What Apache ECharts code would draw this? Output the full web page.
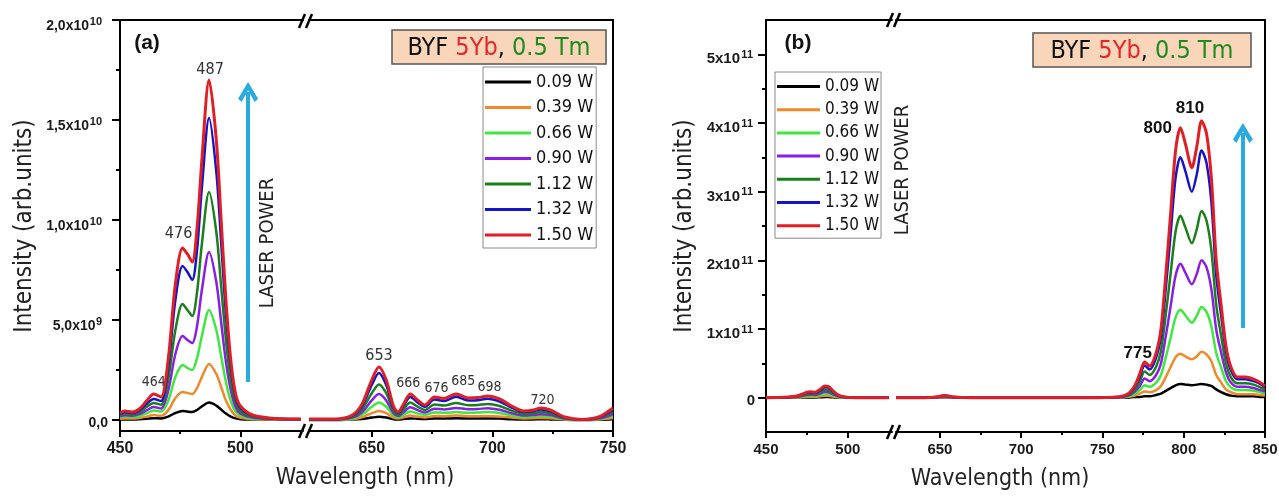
<!DOCTYPE html>
<html><head><meta charset="utf-8">
<script src="https://cdn.jsdelivr.net/npm/echarts@6/dist/echarts.min.js"></script>
<style>html,body{margin:0;padding:0;background:#fff}#c{width:1279px;height:496px}</style>
</head><body><div id="c"></div>
<script>
// ---------- DATA ----------
const powers = ['0.09 W', '0.39 W', '0.66 W', '0.90 W', '1.12 W', '1.32 W', '1.50 W'];

// Panel (a): intensity in units of 1e9
const SCALE_A = 1e9;
const wlA1 = [450, 452, 455, 458, 461, 464, 467, 470, 473, 476, 478, 480, 482, 484, 487, 490, 492, 494, 496, 498, 500, 505, 512, 520, 525];
const a1_009 = [0.02, 0.03, 0.03, 0.04, 0.06, 0.09, 0.08, 0.17, 0.35, 0.45, 0.42, 0.40, 0.50, 0.68, 0.87, 0.72, 0.52, 0.32, 0.17, 0.08, 0.04, 0.02, 0.01, 0.01, 0.01];
const a1_039 = [0.06, 0.08, 0.07, 0.10, 0.17, 0.25, 0.21, 0.48, 1.10, 1.40, 1.35, 1.30, 1.60, 2.15, 2.80, 2.30, 1.65, 0.97, 0.50, 0.22, 0.11, 0.04, 0.02, 0.01, 0.01];
const a1_066 = [0.12, 0.16, 0.14, 0.19, 0.33, 0.48, 0.42, 0.95, 2.15, 2.75, 2.60, 2.50, 3.10, 4.20, 5.50, 4.50, 3.20, 1.90, 0.95, 0.42, 0.22, 0.08, 0.04, 0.02, 0.02];
const a1_090 = [0.18, 0.24, 0.21, 0.29, 0.48, 0.65, 0.58, 1.45, 3.30, 4.20, 4.00, 3.85, 4.70, 6.50, 8.40, 6.90, 4.90, 2.90, 1.50, 0.65, 0.33, 0.12, 0.05, 0.03, 0.03];
const a1_112 = [0.24, 0.32, 0.28, 0.38, 0.65, 0.85, 0.76, 2.00, 4.50, 5.80, 5.50, 5.20, 6.40, 8.80, 11.4, 9.40, 6.70, 4.00, 2.00, 0.90, 0.45, 0.17, 0.07, 0.04, 0.04];
const a1_132 = [0.30, 0.40, 0.35, 0.48, 0.80, 1.05, 0.95, 2.60, 6.00, 7.70, 7.40, 7.00, 8.50, 11.6, 15.1, 12.4, 8.90, 5.30, 2.70, 1.15, 0.60, 0.22, 0.09, 0.05, 0.05];
const a1_150 = [0.35, 0.45, 0.40, 0.55, 0.95, 1.30, 1.15, 3.00, 6.80, 8.60, 8.30, 7.90, 9.60, 13.0, 17.0, 14.0, 10.0, 6.00, 3.00, 1.30, 0.70, 0.25, 0.10, 0.05, 0.05];

const wlA2 = [624, 635, 642, 646, 650, 653, 656, 659, 661, 663, 666, 669, 672, 676, 680, 685, 690, 694, 698, 703, 708, 713, 717, 720, 724, 730, 737, 744, 750];
const a2_009 = [0.00, 0.00, 0.02, 0.05, 0.12, 0.16, 0.12, 0.04, 0.03, 0.05, 0.08, 0.06, 0.05, 0.07, 0.07, 0.09, 0.07, 0.07, 0.08, 0.07, 0.04, 0.03, 0.03, 0.04, 0.03, 0.01, 0.00, 0.01, 0.04];
const a2_039 = [0.01, 0.01, 0.04, 0.14, 0.34, 0.45, 0.34, 0.12, 0.07, 0.13, 0.22, 0.17, 0.13, 0.20, 0.19, 0.23, 0.19, 0.19, 0.20, 0.18, 0.12, 0.08, 0.09, 0.10, 0.09, 0.03, 0.01, 0.03, 0.10];
const a2_066 = [0.02, 0.02, 0.08, 0.26, 0.66, 0.88, 0.66, 0.23, 0.13, 0.25, 0.43, 0.33, 0.25, 0.38, 0.36, 0.40, 0.36, 0.37, 0.40, 0.35, 0.23, 0.15, 0.17, 0.20, 0.17, 0.05, 0.01, 0.05, 0.20];
const a2_090 = [0.02, 0.02, 0.12, 0.39, 0.98, 1.30, 0.98, 0.34, 0.20, 0.37, 0.64, 0.49, 0.37, 0.56, 0.53, 0.60, 0.54, 0.55, 0.59, 0.51, 0.34, 0.22, 0.25, 0.29, 0.25, 0.07, 0.01, 0.07, 0.29];
const a2_112 = [0.03, 0.03, 0.17, 0.54, 1.34, 1.78, 1.34, 0.47, 0.27, 0.50, 0.87, 0.67, 0.50, 0.77, 0.72, 0.85, 0.74, 0.75, 0.80, 0.70, 0.47, 0.30, 0.34, 0.40, 0.34, 0.10, 0.02, 0.10, 0.40];
const a2_132 = [0.04, 0.04, 0.22, 0.70, 1.75, 2.35, 1.75, 0.62, 0.35, 0.66, 1.15, 0.88, 0.66, 1.02, 0.95, 1.16, 0.97, 0.99, 1.06, 0.92, 0.62, 0.40, 0.44, 0.53, 0.44, 0.13, 0.03, 0.13, 0.52];
const a2_150 = [0.05, 0.05, 0.25, 0.80, 2.00, 2.65, 2.00, 0.70, 0.40, 0.75, 1.30, 1.00, 0.75, 1.15, 1.08, 1.30, 1.10, 1.12, 1.20, 1.05, 0.70, 0.45, 0.50, 0.60, 0.50, 0.15, 0.03, 0.15, 0.60];

// Panel (b): intensity in units of 1e11
const SCALE_B = 1e11;
const wlB1 = [450, 462, 468, 472, 475, 477, 480, 483, 486, 488, 491, 494, 498, 505, 515, 525];
const b1_009 = [0, 0, 0.001, 0.002, 0.004, 0.004, 0.004, 0.006, 0.009, 0.008, 0.005, 0.002, 0, 0, 0, 0];
const b1_039 = [0, 0.001, 0.003, 0.008, 0.013, 0.014, 0.013, 0.020, 0.028, 0.027, 0.017, 0.007, 0.002, 0, 0, 0];
const b1_066 = [0, 0.002, 0.007, 0.017, 0.027, 0.028, 0.027, 0.040, 0.057, 0.055, 0.033, 0.013, 0.003, 0, 0, 0];
const b1_090 = [0, 0.002, 0.010, 0.025, 0.040, 0.042, 0.040, 0.060, 0.085, 0.082, 0.050, 0.020, 0.005, 0, 0, 0];
const b1_112 = [0, 0.003, 0.013, 0.033, 0.053, 0.057, 0.053, 0.080, 0.115, 0.110, 0.067, 0.027, 0.007, 0, 0, 0];
const b1_132 = [0, 0.004, 0.018, 0.045, 0.070, 0.075, 0.070, 0.105, 0.150, 0.145, 0.090, 0.035, 0.010, 0, 0, 0];
const b1_150 = [0, 0.005, 0.020, 0.050, 0.080, 0.085, 0.080, 0.120, 0.170, 0.165, 0.100, 0.040, 0.010, 0, 0, 0];

const wlB2 = [623, 640, 648, 653, 658, 670, 700, 740, 760, 766, 770, 773, 776, 779, 783, 786, 789, 792, 795, 798, 801, 805, 808, 811, 814, 817, 820, 823, 826, 829, 833, 838, 843, 847, 850];
const b2_009 = [0, 0, 0, 0, 0, 0, 0, 0, 0, 0, 0.01, 0.01, 0.02, 0.02, 0.04, 0.06, 0.10, 0.14, 0.18, 0.20, 0.19, 0.18, 0.19, 0.20, 0.19, 0.17, 0.12, 0.08, 0.05, 0.03, 0.02, 0.02, 0.02, 0.01, 0.01];
const b2_039 = [0, 0, 0, 0, 0, 0, 0, 0, 0, 0.01, 0.03, 0.06, 0.09, 0.08, 0.11, 0.17, 0.30, 0.45, 0.59, 0.64, 0.60, 0.56, 0.60, 0.67, 0.63, 0.53, 0.33, 0.22, 0.12, 0.08, 0.05, 0.05, 0.05, 0.04, 0.03];
const b2_066 = [0, 0, 0, 0.01, 0, 0, 0, 0, 0, 0.02, 0.06, 0.11, 0.18, 0.16, 0.22, 0.33, 0.59, 0.88, 1.17, 1.28, 1.20, 1.09, 1.19, 1.32, 1.25, 1.04, 0.65, 0.44, 0.24, 0.15, 0.11, 0.11, 0.10, 0.08, 0.06];
const b2_090 = [0, 0, 0, 0.01, 0, 0, 0, 0, 0, 0.03, 0.09, 0.17, 0.28, 0.24, 0.33, 0.50, 0.90, 1.34, 1.78, 1.95, 1.82, 1.65, 1.80, 2.00, 1.90, 1.58, 0.99, 0.66, 0.37, 0.22, 0.16, 0.16, 0.14, 0.11, 0.09];
const b2_112 = [0, 0, 0.01, 0.02, 0.01, 0, 0, 0, 0.01, 0.04, 0.12, 0.24, 0.38, 0.33, 0.45, 0.68, 1.22, 1.82, 2.42, 2.65, 2.48, 2.25, 2.45, 2.72, 2.58, 2.15, 1.35, 0.90, 0.50, 0.30, 0.21, 0.21, 0.19, 0.15, 0.12];
const b2_132 = [0, 0, 0.01, 0.03, 0.01, 0, 0, 0, 0.01, 0.05, 0.16, 0.31, 0.47, 0.41, 0.58, 0.89, 1.60, 2.40, 3.20, 3.50, 3.30, 3.00, 3.25, 3.60, 3.42, 2.85, 1.78, 1.20, 0.67, 0.40, 0.27, 0.27, 0.24, 0.20, 0.15];
const b2_150 = [0, 0, 0.01, 0.03, 0.01, 0, 0, 0, 0.01, 0.06, 0.18, 0.35, 0.52, 0.46, 0.65, 1.00, 1.80, 2.70, 3.60, 3.93, 3.70, 3.35, 3.65, 4.03, 3.85, 3.20, 2.00, 1.35, 0.75, 0.45, 0.30, 0.30, 0.27, 0.22, 0.17];

// Tick values / labels
const xTicksA1 = [450, 500], xMinorA1 = [475];
const xTicksA2 = [650, 700, 750], xMinorA2 = [675, 725];
const xTicksB1 = [450, 500], xMinorB1 = [475];
const xTicksB2 = [650, 700, 750, 800, 850], xMinorB2 = [675, 725, 775, 825];
const yTicksA = [0, 5e9, 1e10, 1.5e10, 2e10];
const yMantA = ['0,0', '5,0', '1,0', '1,5', '2,0'];
const yExpA = ['', '9', '10', '10', '10'];
const yMinorA = [2.5e9, 7.5e9, 1.25e10, 1.75e10];
const yTicksB = [0, 1e11, 2e11, 3e11, 4e11, 5e11];
const yMantB = ['0', '1', '2', '3', '4', '5'];
const yExpB = ['', '11', '11', '11', '11', '11'];
const yMinorB = [0.5e11, 1.5e11, 2.5e11, 3.5e11, 4.5e11];

// Peak annotations: [label, wavelength, red-curve value at peak]
const peaksA1 = [['487', 487, 17.0], ['476', 476, 8.6], ['464', 464, 1.3]];
const peaksA2 = [['653', 653, 2.65], ['666', 666, 1.3], ['676', 676, 1.15], ['685', 685, 1.3], ['698', 698, 1.2], ['720', 720, 0.6]];
const peaksB2 = [['810', 810, 4.03], ['800', 798, 3.93], ['775', 776, 0.52]];

// ---------- STYLE ----------
const colors = ['#000000', '#ee8a2a', '#3ee83e', '#8a1ee6', '#1b7f1b', '#1414cc', '#e01e24'];
const FC = '"DejaVu Sans Condensed", "Noto Sans", "DejaVu Sans", sans-serif';
const FB = '"Liberation Sans", Arial, sans-serif';
const AX = '#000';
const LBL = '#1a1a1a';
const ARROW = 'path://M10,0 L20,15 L16.5,18 L10,7.5 L3.5,18 L0,15 Z';

const segA1 = [a1_009, a1_039, a1_066, a1_090, a1_112, a1_132, a1_150];
const segA2 = [a2_009, a2_039, a2_066, a2_090, a2_112, a2_132, a2_150];
const segB1 = [b1_009, b1_039, b1_066, b1_090, b1_112, b1_132, b1_150];
const segB2 = [b2_009, b2_039, b2_066, b2_090, b2_112, b2_132, b2_150];

function xAxes(g, min, max, ticks, minors, fs) {
  return [
    {type: 'value', gridIndex: g, position: 'bottom', min, max, splitLine: {show: false},
     axisLine: {show: true, onZero: false, lineStyle: {color: AX, width: 2}},
     axisTick: {show: true, customValues: ticks, length: 6, lineStyle: {color: AX, width: 2}},
     axisLabel: {show: true, customValues: ticks, margin: 10, fontSize: fs, fontWeight: 'bold', fontFamily: FB, color: LBL}},
    {type: 'value', gridIndex: g, position: 'bottom', min, max, splitLine: {show: false},
     axisLine: {show: false, onZero: false},
     axisTick: {show: true, customValues: minors, length: 3, lineStyle: {color: AX, width: 2}},
     axisLabel: {show: false}},
    {type: 'value', gridIndex: g, position: 'top', min, max, splitLine: {show: false},
     axisLine: {show: true, onZero: false, lineStyle: {color: AX, width: 2}},
     axisTick: {show: false}, axisLabel: {show: false}}
  ];
}
function idxOf(ticks, v) {
  return ticks.findIndex(t => Math.abs(t - v) < Math.abs(ticks[1]) * 1e-6);
}
// y axes of a left segment: main (ticks + zero label), minor (minor ticks + exponents),
// and one label overlay per exponent length (mantissa "x10" part).
// Vertical offset of each label = lineHeight / 2 (labels top-aligned at the tick).
function yPanel(g, min, max, ticks, mant, exps, minors, o) {
  const base = {type: 'value', gridIndex: g, position: 'left', min, max, splitLine: {show: false}};
  const withExp = ticks.filter((t, i) => exps[i] !== '');
  const axes = [
    Object.assign({}, base, {
      axisLine: {show: true, onZero: false, lineStyle: {color: AX, width: 2}},
      axisTick: {show: true, customValues: ticks, length: 8, lineStyle: {color: AX, width: 2}},
      axisLabel: {show: true, customValues: ticks.filter((t, i) => exps[i] === ''),
        formatter: v => mant[idxOf(ticks, v)], margin: o.zeroMargin,
        verticalAlign: 'top', lineHeight: o.zeroLH,
        fontSize: o.fs, fontWeight: 'bold', fontFamily: FB, color: LBL}}),
    Object.assign({}, base, {
      axisLine: {show: false, onZero: false},
      axisTick: {show: true, customValues: minors, length: 4, lineStyle: {color: AX, width: 2}},
      axisLabel: {show: true, customValues: withExp,
        formatter: v => exps[idxOf(ticks, v)], margin: o.expMargin,
        verticalAlign: 'top', lineHeight: o.expLH,
        fontSize: o.efs, fontWeight: 'bold', fontFamily: FB, color: LBL}})
  ];
  const lens = [...new Set(exps.filter(e => e !== '').map(e => e.length))];
  lens.forEach(L => {
    axes.push(Object.assign({}, base, {
      axisLine: {show: false, onZero: false}, axisTick: {show: false},
      axisLabel: {show: true, customValues: ticks.filter((t, i) => exps[i].length === L),
        formatter: v => mant[idxOf(ticks, v)] + 'x10', margin: o.expMargin + L * o.digitW,
        verticalAlign: 'top', lineHeight: o.mainLH,
        fontSize: o.fs, fontWeight: 'bold', fontFamily: FB, color: LBL}}));
  });
  return axes;
}
function yRight(g, min, max) {
  return {type: 'value', gridIndex: g, position: 'right', min, max, splitLine: {show: false},
    axisLine: {show: true, onZero: false, lineStyle: {color: AX, width: 2}},
    axisTick: {show: false}, axisLabel: {show: false}};
}

const yAxesA = yPanel(0, -0.55e9, 2.0e10, yTicksA, yMantA, yExpA, yMinorA,
  {fs: 14, efs: 11, zeroMargin: 12, zeroLH: 6, expMargin: 18, expLH: 3, mainLH: 13, digitW: 6.5});
const yAxesB = yPanel(2, -0.5e11, 5.5e11, yTicksB, yMantB, yExpB, yMinorB,
  {fs: 15, efs: 11, zeroMargin: 11, zeroLH: 6, expMargin: 13, expLH: 1, mainLH: 10, digitW: 6.5});
const yAll = [...yAxesA, yRight(1, -0.55e9, 2.0e10), ...yAxesB, yRight(3, -0.5e11, 5.5e11)];
const Y_A1 = 0, Y_A2 = yAxesA.length, Y_B1 = yAxesA.length + 1, Y_B2 = yAxesA.length + 1 + yAxesB.length;

const series = [];
function addSeg(wl, seg, scale, xi, yi, extra) {
  seg.forEach((vals, k) => {
    const s = {
      type: 'line', name: powers[k], xAxisIndex: xi, yAxisIndex: yi,
      data: wl.map((w, i) => [w, vals[i] * scale]),
      smooth: 0.3, showSymbol: false, symbol: 'none', silent: true,
      lineStyle: {color: colors[k], width: k === 6 ? 3 : 2.5},
      itemStyle: {color: colors[k]},
      emphasis: {disabled: true}, z: 2 + k
    };
    if (k === 6 && extra) Object.assign(s, extra);
    series.push(s);
  });
}
const hidden = {symbol: 'circle', symbolSize: 1, itemStyle: {color: 'transparent'}};
function peakMP(peaks, scale, labelFn) {
  return Object.assign({silent: true, animation: false,
    data: peaks.map((p, i) => Object.assign({coord: [p[1], p[2] * scale], value: p[0]}, labelFn(i, p)))}, hidden);
}

addSeg(wlA1, segA1, SCALE_A, 0, Y_A1, {
  markPoint: peakMP(peaksA1, SCALE_A, (i, p) => ({label: {show: true, formatter: p[0], position: 'top',
    distance: [2, 6, 4][i], offset: [[1, 0], [-4, 0], [0, 0]][i],
    fontFamily: FC, fontSize: [16, 16, 14][i], color: '#333'}})),
  markLine: {silent: true, animation: false, symbol: ['none', ARROW], symbolSize: 20,
    lineStyle: {color: '#29abe2', width: 4, type: 'solid'}, label: {show: false},
    data: [[{coord: [503.2, 1.9e9]}, {coord: [503.2, 1.64e10]}]]}
});
addSeg(wlA2, segA2, SCALE_A, 3, Y_A2, {
  markPoint: peakMP(peaksA2, SCALE_A, (i, p) => ({label: {show: true, formatter: p[0], position: 'top',
    distance: [3, 3, 1, 5, 1, 0][i], offset: [[0, 0], [-2, 0], [2, 0], [7, 0], [2, 0], [2, 0]][i],
    fontFamily: FC, fontSize: [16, 14, 14, 14, 14, 14][i], color: '#333'}}))
});
addSeg(wlB1, segB1, SCALE_B, 6, Y_B1, null);
addSeg(wlB2, segB2, SCALE_B, 9, Y_B2, {
  markPoint: peakMP(peaksB2, SCALE_B, (i, p) => ({label: {show: true, formatter: p[0],
    position: ['top', 'left', 'top'][i], distance: [4, 8, 0][i], offset: [[-10, 0], [0, 1], [-7, 0]][i],
    fontFamily: FB, fontWeight: 'bold', fontSize: 17, color: '#111'}})),
  markLine: {silent: true, animation: false, symbol: ['none', ARROW], symbolSize: 20,
    lineStyle: {color: '#29abe2', width: 4, type: 'solid'}, label: {show: false},
    data: [[{coord: [836.4, 1.015e11]}, {coord: [836.4, 3.855e11]}]]}
});

// ---------- GRAPHIC ANNOTATIONS ----------
function txt(x, y, text, font, opts) {
  return Object.assign({type: 'text', x, y, silent: true,
    style: {text, font, fill: '#222', align: 'center', verticalAlign: 'middle', textAlign: 'center', textVerticalAlign: 'middle'}}, opts || {});
}
function brk(cx, cy) {
  return [
    {type: 'line', silent: true, shape: {x1: cx - 7, y1: cy + 7, x2: cx - 1, y2: cy - 7}, style: {stroke: '#000', lineWidth: 2.5}},
    {type: 'line', silent: true, shape: {x1: cx, y1: cy + 7, x2: cx + 6, y2: cy - 7}, style: {stroke: '#000', lineWidth: 2.5}}
  ];
}
function sampleBox(x, y, w, h) {
  return {type: 'group', x, y, silent: true, children: [
    {type: 'rect', shape: {x: 0, y: 0, width: w, height: h}, style: {fill: '#f9d6ba', stroke: '#555', lineWidth: 1.5}},
    {type: 'text', x: w / 2, y: h / 2 + 1, style: {
      text: '{k|BYF }{r|5Yb}{k|, }{g|0.5 Tm}', align: 'center', verticalAlign: 'middle',
      textAlign: 'center', textVerticalAlign: 'middle',
      rich: {
        k: {fill: '#111', color: '#111', fontSize: 25, fontFamily: FC},
        r: {fill: '#e3262a', color: '#e3262a', fontSize: 25, fontFamily: FC},
        g: {fill: '#1f8a22', color: '#1f8a22', fontSize: 25, fontFamily: FC}
      }}}
  ]};
}
const graphic = [
  {type: 'text', x: 147, y: 43, silent: true, style: {text: '(a)', font: 'bold 21px ' + FB, fill: '#111', align: 'center', verticalAlign: 'middle'}},
  {type: 'text', x: 798, y: 43, silent: true, style: {text: '(b)', font: 'bold 21px ' + FB, fill: '#111', align: 'center', verticalAlign: 'middle'}},
  txt(268, 243, 'LASER POWER', '20px ' + FC, {rotation: Math.PI / 2}),
  txt(903, 170, 'LASER POWER', '20px ' + FC, {rotation: Math.PI / 2}),
  txt(25, 226, 'Intensity (arb.units)', '24px ' + FC, {rotation: Math.PI / 2}),
  txt(685, 226, 'Intensity (arb.units)', '24px ' + FC, {rotation: Math.PI / 2}),
  txt(365, 478, 'Wavelength (nm)', '23px ' + FC),
  txt(1000, 479, 'Wavelength (nm)', '23px ' + FC),
  sampleBox(392, 30, 214, 34),
  sampleBox(1033, 33, 218, 34),
  ...brk(306, 21), ...brk(306, 431), ...brk(894, 20), ...brk(894, 432)
];

const option = {
  animation: false,
  backgroundColor: '#fff',
  textStyle: {fontFamily: FB},
  grid: [
    {left: 120, top: 20, width: 183, height: 411, containLabel: false, outerBoundsMode: 'none'},
    {left: 309, top: 20, width: 304, height: 411, containLabel: false, outerBoundsMode: 'none'},
    {left: 766, top: 20, width: 126, height: 412, containLabel: false, outerBoundsMode: 'none'},
    {left: 896, top: 20, width: 369, height: 412, containLabel: false, outerBoundsMode: 'none'}
  ],
  xAxis: [
    ...xAxes(0, 450, 526, xTicksA1, xMinorA1, 16),
    ...xAxes(1, 624, 750, xTicksA2, xMinorA2, 16),
    ...xAxes(2, 450, 527, xTicksB1, xMinorB1, 15),
    ...xAxes(3, 623, 850, xTicksB2, xMinorB2, 15)
  ],
  yAxis: yAll,
  legend: [
    {data: powers, orient: 'vertical', left: 483, top: 67, padding: [6, 3, 4, 2], itemGap: 7.5,
     itemWidth: 46, itemHeight: 3, icon: 'rect', borderColor: '#8a8a8a', borderWidth: 1, selectedMode: false,
     textStyle: {fontFamily: FC, fontSize: 18, lineHeight: 18, color: '#111'}},
    {data: powers, orient: 'vertical', left: 775, top: 72, padding: [6, 2, 4, 2], itemGap: 6.2,
     itemWidth: 43, itemHeight: 3, icon: 'rect', borderColor: '#8a8a8a', borderWidth: 1, selectedMode: false,
     textStyle: {fontFamily: FC, fontSize: 17, lineHeight: 17, color: '#111'}}
  ],
  graphic,
  series
};
const chart = echarts.init(document.getElementById('c'), null, {renderer: 'canvas'});
chart.setOption(option);
</script>
</body></html>
